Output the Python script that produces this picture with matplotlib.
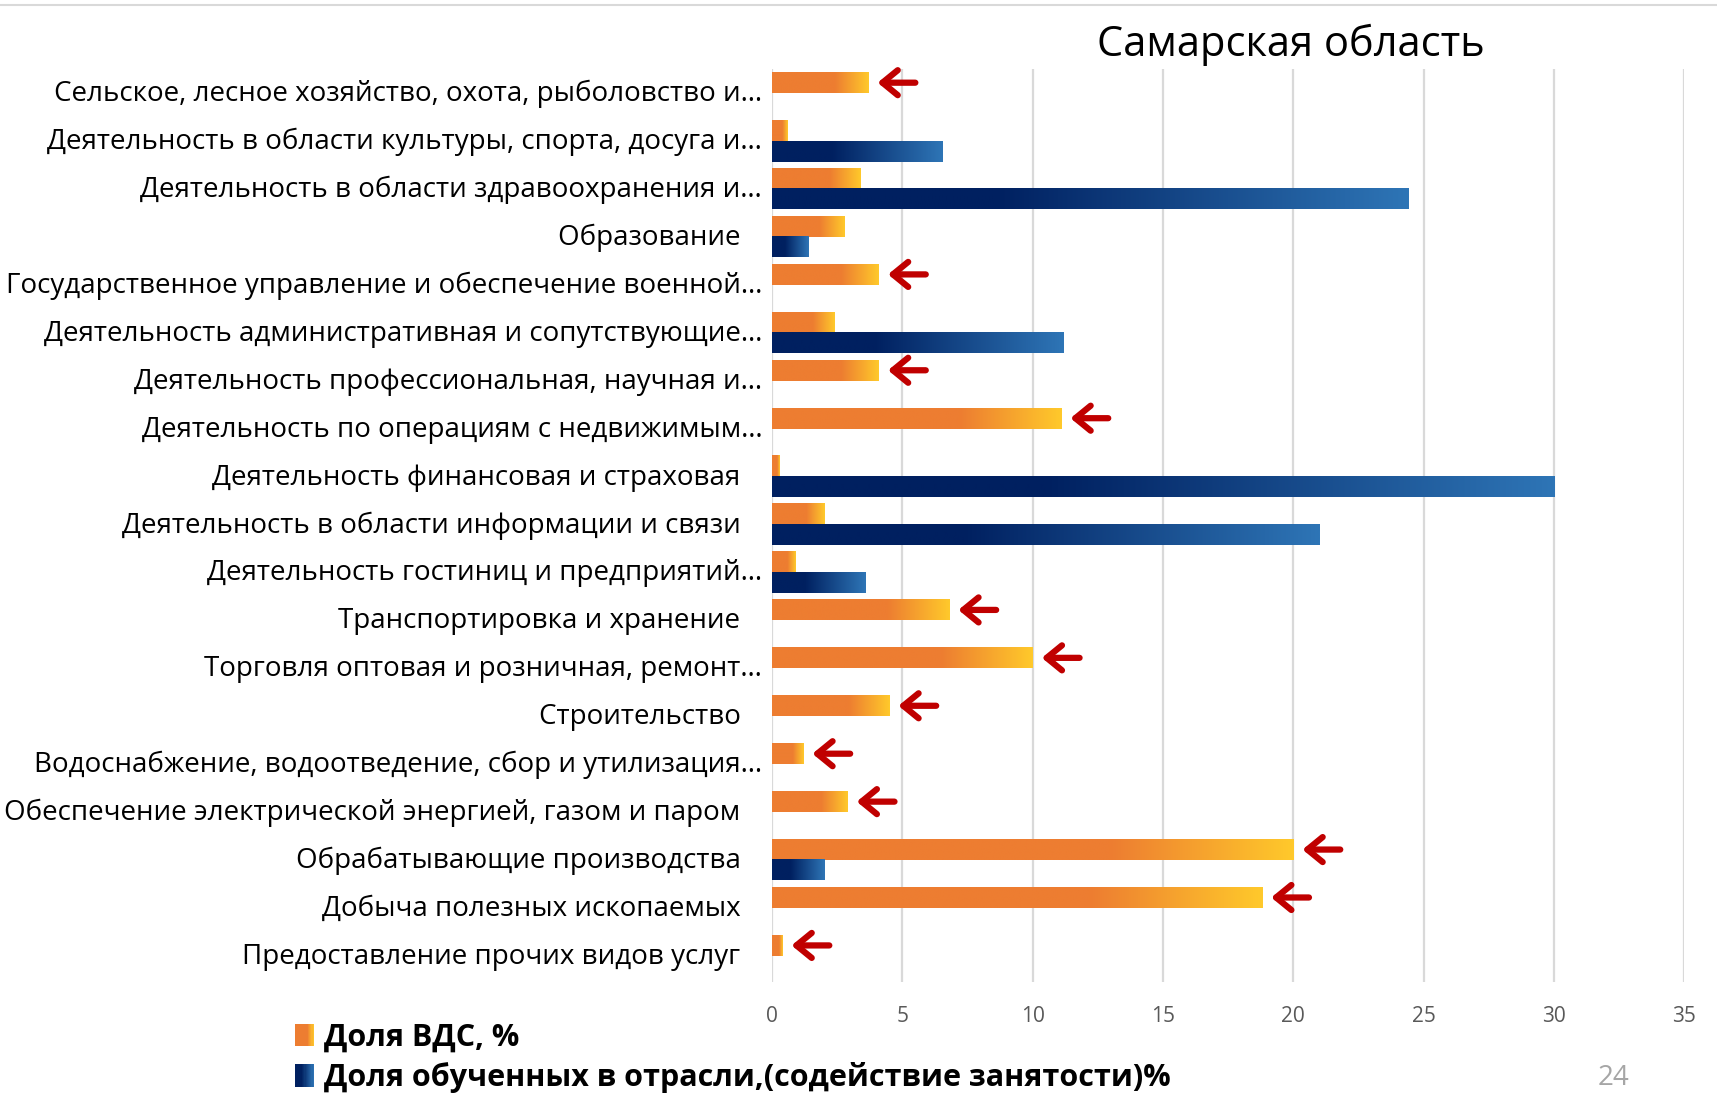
import numpy as np
import matplotlib
matplotlib.use("Agg")
import matplotlib.pyplot as plt
from matplotlib.patches import Rectangle
from matplotlib.lines import Line2D
from matplotlib.legend_handler import HandlerBase
from matplotlib.colors import to_rgb

plt.rcParams['font.family'] = ['Open Sans', 'DejaVu Sans']

# ---- data (top-to-bottom as in the picture) ----
categories = [
    "Сельское, лесное хозяйство, охота, рыболовство и…",
    "Деятельность в области культуры, спорта, досуга и…",
    "Деятельность в области здравоохранения и…",
    "Образование",
    "Государственное управление и обеспечение военной…",
    "Деятельность административная и сопутствующие…",
    "Деятельность профессиональная, научная и…",
    "Деятельность по операциям с недвижимым…",
    "Деятельность финансовая и страховая",
    "Деятельность в области информации и связи",
    "Деятельность гостиниц и предприятий…",
    "Транспортировка и хранение",
    "Торговля оптовая и розничная, ремонт…",
    "Строительство",
    "Водоснабжение, водоотведение, сбор и утилизация…",
    "Обеспечение электрической энергией, газом и паром",
    "Обрабатывающие производства",
    "Добыча полезных ископаемых",
    "Предоставление прочих видов услуг",
]
vds_share = [3.7, 0.6, 3.4, 2.8, 4.1, 2.4, 4.1, 11.1, 0.3, 2.0, 0.9, 6.8, 10.0, 4.5, 1.2, 2.9, 20.0, 18.8, 0.4]
trained_share = [0, 6.55, 24.4, 1.4, 0, 11.2, 0, 0, 30.0, 21.0, 3.6, 0, 0, 0, 0, 0, 2.0, 0, 0]
marked = [True, False, False, False, True, False, True, True, False, False, False,
          True, True, True, True, True, True, True, True]
series_names = ["Доля ВДС, %", "Доля обученных в отрасли,(содействие занятости)%"]
title = "Самарская область"
page_number = "24"
xticks = [0, 5, 10, 15, 20, 25, 30, 35]

# ---- styles ----
ORANGE_STOPS = [(0.0, "#ED7D31"), (0.65, "#ED7D31"), (1.0, "#FFC92B")]
BLUE_STOPS = [(0.0, "#002060"), (0.35, "#002060"), (1.0, "#2E75B6")]


def grad_row(stops, n=256):
    t = np.linspace(0, 1, n)
    pos = [s[0] for s in stops]
    cols = np.array([to_rgb(s[1]) for s in stops])
    rgb = np.stack([np.interp(t, pos, cols[:, k]) for k in range(3)], axis=-1)
    return rgb[None, :, :]


def color_at(stops, t):
    pos = [s[0] for s in stops]
    cols = np.array([to_rgb(s[1]) for s in stops])
    return tuple(np.interp(t, pos, cols[:, k]) for k in range(3))


class GradHandler(HandlerBase):
    def __init__(self, stops):
        super().__init__()
        self.stops = stops

    def create_artists(self, legend, orig_handle, xdescent, ydescent, width, height, fontsize, trans):
        n = 16
        arts = []
        for i in range(n):
            c = color_at(self.stops, (i + 0.5) / n)
            r = Rectangle((-xdescent + i * width / n, -ydescent), width / n * 1.08, height,
                          facecolor=c, edgecolor='none', transform=trans)
            arts.append(r)
        return arts


W, H = 1717, 1101
fig = plt.figure(figsize=(W / 100, H / 100), dpi=100)
ax = fig.add_axes([0.4496, 0.108, 0.9810 - 0.4496, 0.9373 - 0.108])

n = len(categories)
ypos = np.arange(n)[::-1]  # first category on top
h = 0.43

bars_o = ax.barh(ypos + h / 2, vds_share, height=h, color='none', edgecolor='none')
bars_b = ax.barh(ypos - h / 2, trained_share, height=h, color='none', edgecolor='none')

for bars, stops in ((bars_o, ORANGE_STOPS), (bars_b, BLUE_STOPS)):
    img = grad_row(stops)
    for b in bars:
        w = b.get_width()
        if w <= 0:
            continue
        x0, y0, hh = b.get_x(), b.get_y(), b.get_height()
        ax.imshow(img, extent=(x0, x0 + w, y0, y0 + hh), aspect='auto',
                  interpolation='bilinear', zorder=3)

# arrows marking the orange bars
for b, m in zip(bars_o, marked):
    if not m:
        continue
    tip = b.get_width() + 0.35
    yc = b.get_y() + b.get_height() / 2
    ax.annotate('', xy=(tip, yc), xytext=(tip + 1.45, yc),
                arrowprops=dict(arrowstyle='->,head_length=0.55,head_width=0.45',
                                lw=4.5, color='#C00000', mutation_scale=20,
                                shrinkA=0, shrinkB=0), zorder=4)

ax.set_xlim(0, 35)
ax.set_ylim(-0.55, n - 0.5)
ax.set_xticks(xticks)
ax.set_xticklabels([str(t) for t in xticks], fontsize=15, color='#595959')
ax.set_yticks(ypos + 0.05)
ylabels = [c if c.endswith('…') else c + '   ' for c in categories]
ax.set_yticklabels(ylabels, fontsize=20, color='#000000')
ax.tick_params(axis='both', length=0)
ax.tick_params(axis='x', pad=17)
ax.tick_params(axis='y', pad=7)
ax.grid(axis='x', color='#D9D9D9', lw=1.6, zorder=0)
ax.set_axisbelow(True)
for s in ax.spines.values():
    s.set_visible(False)

fig.text(0.752, 0.959, title, fontsize=30, ha='center', va='center', color='#000000')
fig.text(0.940, 0.021, page_number, fontsize=20, ha='center', va='center', color='#A6A6A6')
fig.add_artist(Line2D([0, 1], [0.9955, 0.9955], color='#D9D9D9', lw=1.5, transform=fig.transFigure))

h1 = Rectangle((0, 0), 1, 1)
h2 = Rectangle((0, 0), 1, 1)
leg = fig.legend([h1, h2], series_names, loc='upper left', bbox_to_anchor=(0.172, 0.071),
                 frameon=False, handler_map={h1: GradHandler(ORANGE_STOPS), h2: GradHandler(BLUE_STOPS)},
                 handlelength=0.6, handleheight=0.75, handletextpad=0.35, labelspacing=0.3,
                 borderpad=0, borderaxespad=0,
                 prop={'size': 22, 'weight': 'bold'})

fig.savefig('out.png', dpi=100)
